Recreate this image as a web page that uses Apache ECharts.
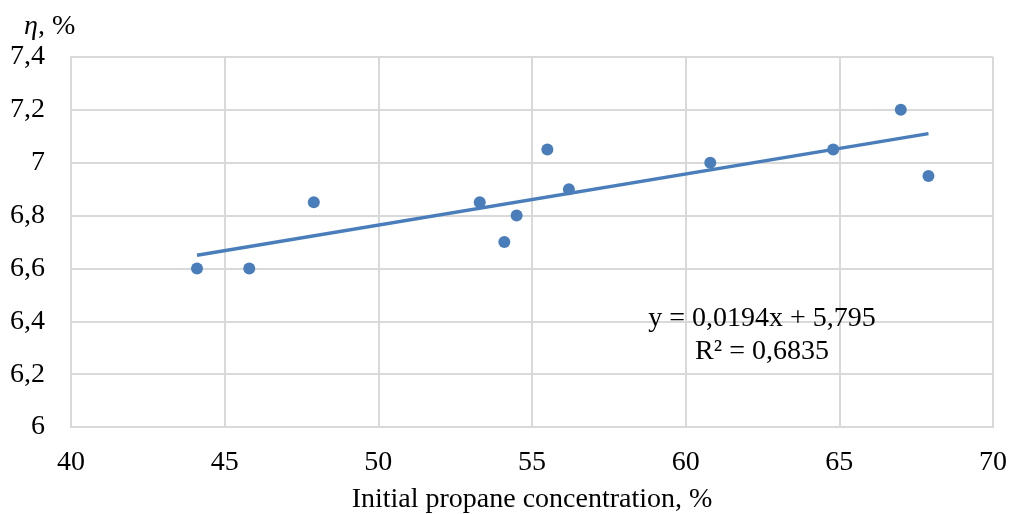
<!DOCTYPE html>
<html>
<head>
<meta charset="utf-8">
<script src="https://cdn.jsdelivr.net/npm/echarts@6/dist/echarts.min.js"></script>
<style>
  html, body { margin: 0; padding: 0; background: #fff; }
  #chart { width: 1010px; height: 514px; }
</style>
</head>
<body>
<div id="chart"></div>
<script>
// measured points (x = initial propane concentration, y = eta)
const concentration = [44.1, 45.8, 47.9, 53.3, 54.1, 54.5, 55.5, 56.2, 60.8, 64.8, 67.0, 67.9]
const efficiency = [6.6, 6.6, 6.85, 6.85, 6.7, 6.8, 7.05, 6.9, 7.0, 7.05, 7.2, 6.95]
// linear trendline ends, as drawn
const trendX = [44.1, 67.9]
const trendY = [6.65, 7.11]
const equationLines = ['y = 0,0194x + 5,795', 'R² = 0,6835']

const blue = '#4a7ebb'
const gridColor = '#d9d9d9'
const font = '"Liberation Serif", "Times New Roman", serif'
const fs = 28

const chart = echarts.init(document.getElementById('chart'))
chart.setOption({
  animation: false,
  textStyle: { fontFamily: font },
  grid: { left: 71, right: 17, top: 57, bottom: 87, containLabel: false, outerBoundsMode: 'none' },
  title: {
    text: '{i|η}, %',
    left: 19, top: 8,
    textStyle: {
      fontFamily: font, fontSize: fs, fontWeight: 'normal', color: '#000',
      rich: { i: { fontFamily: font, fontSize: fs, fontStyle: 'italic', color: '#000' } }
    }
  },
  graphic: [{
    type: 'text',
    x: 762, y: 302,
    z: 10,
    style: {
      text: equationLines.join('\n'),
      fontFamily: font, fontSize: fs, fill: '#000',
      align: 'center', verticalAlign: 'top', lineHeight: 33
    }
  }],
  xAxis: {
    type: 'value', min: 40, max: 70, interval: 5,
    name: 'Initial propane concentration, %',
    nameLocation: 'middle', nameGap: 59,
    nameTextStyle: { fontFamily: font, fontSize: fs, color: '#000' },
    axisLine: { lineStyle: { color: gridColor, width: 2 } },
    axisTick: { show: false },
    axisLabel: { fontFamily: font, fontSize: fs, color: '#000', margin: 22 },
    splitLine: { lineStyle: { color: gridColor, width: 2 } }
  },
  yAxis: {
    type: 'value', min: 6, max: 7.4, interval: 0.2,
    axisLine: { show: true, lineStyle: { color: gridColor, width: 2 } },
    axisTick: { show: false },
    axisLabel: {
      fontFamily: font, fontSize: fs, color: '#000', margin: 26,
      formatter: v => String(+v.toFixed(1)).replace('.', ',')
    },
    splitLine: { lineStyle: { color: gridColor, width: 2 } }
  },
  series: [
    {
      type: 'line',
      data: trendX.map((x, i) => [x, trendY[i]]),
      showSymbol: false,
      lineStyle: { color: blue, width: 3.5 },
      z: 2
    },
    {
      type: 'scatter',
      data: concentration.map((x, i) => [x, efficiency[i]]),
      symbolSize: 12,
      itemStyle: { color: blue, opacity: 1 },
      z: 3
    }
  ]
})
</script>
</body>
</html>
